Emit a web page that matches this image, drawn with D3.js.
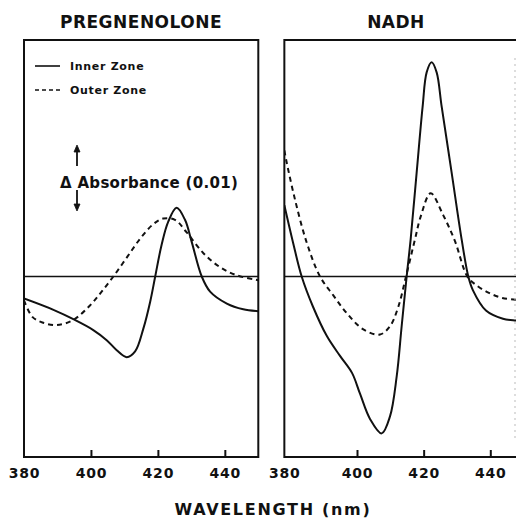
<!DOCTYPE html>
<html>
<head>
<meta charset="utf-8">
<script src="https://cdn.jsdelivr.net/npm/d3@7"></script>
<style>
  body { margin: 0; background: #fff; }
  svg { display: block; }
  text { font-family: 'DejaVu Sans', sans-serif; font-weight: bold; fill: #111; }
</style>
</head>
<body>
<div id="chart"></div>
<script>
const WIDTH = 516;
const HEIGHT = 518;
const TOP = 40;
const BOTTOM = 457;

// values are delta absorbance x 1000
const pregInner = [
  [380, -3.5], [388.8, -5.3], [395.2, -6.9], [400.7, -8.5], [404.7, -10.1],
  [407.7, -11.7], [410.7, -12.8], [413.2, -11.9], [415.7, -8.2], [417.7, -4.0],
  [419.2, 0], [421.1, 5.0], [423.1, 8.7], [425.6, 10.9], [428.1, 9.0],
  [430.1, 5.5], [433.1, 0], [435.6, -2.4], [440.6, -4.3], [445.5, -5.2], [450, -5.5]
];
const pregOuter = [
  [380, -3.8], [382.5, -6.4], [385.5, -7.3], [389.8, -7.7], [394.7, -6.9],
  [399.7, -4.6], [403.2, -2.4], [406.7, 0], [410.7, 3.0], [414.7, 6.0],
  [418.6, 8.3], [421.6, 9.2], [425.1, 9.0], [428.6, 7.0], [433.6, 3.7],
  [438.5, 1.5], [443.5, 0.2], [450, -0.6]
];
const nadhInner = [
  [378.2, 11.3], [380.8, 5.4], [383.4, 0], [386.8, -4.8], [391.0, -9.5],
  [394.9, -12.6], [398.5, -15.3], [400.9, -18.6], [403.9, -22.6], [407.4, -24.9],
  [409.9, -22.2], [411.9, -15.9], [413.4, -7.9], [414.9, 0], [416.1, 5.9],
  [417.9, 16.5], [419.7, 27.0], [420.9, 32.4], [422.4, 34.0], [423.9, 32.4],
  [425.4, 27.0], [428.4, 16.5], [431.4, 5.9], [433.4, 0], [434.8, -2.2],
  [438.7, -5.4], [443.8, -6.7], [447.7, -7.0], [450, -7.1]
];
const nadhOuter = [
  [378.2, 20.0], [378.9, 18.1], [381.4, 12.2], [384.9, 5.4], [388.9, 0],
  [392.9, -3.0], [396.9, -5.8], [401.9, -8.4], [406.9, -9.2], [409.9, -7.9],
  [412.4, -4.8], [414.7, 0], [417.4, 5.9], [419.1, 9.5], [422.1, 13.2],
  [425.9, 9.7], [429.4, 5.6], [433.1, 0], [435.6, -1.3], [439.6, -2.6],
  [443.6, -3.4], [447.7, -3.7], [450, -3.8]
];

const xTicks = [380, 400, 420, 440];
const panelTitles = ['PREGNENOLONE', 'NADH'];
const legendLabels = ['Inner Zone', 'Outer Zone'];

const svg = d3.select('#chart').append('svg')
  .attr('width', WIDTH)
  .attr('height', HEIGHT);

const y = d3.scaleLinear().domain([0, 10]).range([276.5, 213.5]);

const panels = [
  { x: d3.scaleLinear().domain([380, 450]).range([24, 258.3]), start: 380, end: 450,
    inner: pregInner, outer: pregOuter, title: panelTitles[0], titleX: 141 },
  { x: d3.scaleLinear().domain([400, 440]).range([357, 490.3]), start: 378.2, end: 450.5,
    inner: nadhInner, outer: nadhOuter, title: panelTitles[1], titleX: 396 }
];

panels.forEach((p, i) => {
  const x = p.x;
  const x0 = x(p.start), x1 = x(p.end);
  const g = svg.append('g');

  g.append('clipPath').attr('id', 'clip' + i)
    .append('rect')
    .attr('x', x0).attr('y', TOP)
    .attr('width', x1 - x0).attr('height', BOTTOM - TOP);

  // frame
  g.append('rect')
    .attr('x', x0).attr('y', TOP)
    .attr('width', x1 - x0).attr('height', BOTTOM - TOP)
    .attr('fill', 'none')
    .attr('stroke', '#111')
    .attr('stroke-width', 2);

  // zero line
  g.append('line')
    .attr('x1', x0).attr('x2', x1)
    .attr('y1', y(0)).attr('y2', y(0))
    .attr('stroke', '#111')
    .attr('stroke-width', 1.6);

  const line = d3.line()
    .x(d => x(d[0]))
    .y(d => y(d[1]))
    .curve(d3.curveCatmullRom.alpha(0.5));

  g.append('path')
    .datum(p.inner)
    .attr('clip-path', `url(#clip${i})`)
    .attr('d', line)
    .attr('fill', 'none')
    .attr('stroke', '#111')
    .attr('stroke-width', 2);

  g.append('path')
    .datum(p.outer)
    .attr('clip-path', `url(#clip${i})`)
    .attr('d', line)
    .attr('fill', 'none')
    .attr('stroke', '#111')
    .attr('stroke-width', 2)
    .attr('stroke-dasharray', '5,4');

  // bottom axis, ticks pointing inwards
  const axis = g.append('g')
    .attr('transform', `translate(0,${BOTTOM})`)
    .call(d3.axisBottom(x).tickValues(xTicks).tickSizeInner(-7).tickSizeOuter(0));
  axis.select('.domain').remove();
  axis.selectAll('.tick line')
    .attr('stroke', '#111')
    .attr('stroke-width', 2)
    .attr('display', d => d === 380 ? 'none' : null);
  axis.selectAll('.tick text')
    .attr('y', 11)
    .attr('dx', d => (i === 1 && d === 380) ? -6 : 0)
    .style('font-family', "'DejaVu Sans', sans-serif")
    .style('font-weight', 'bold')
    .style('font-size', '14px')
    .style('letter-spacing', '0.8px')
    .attr('fill', '#111');

  g.append('text')
    .attr('x', p.titleX)
    .attr('y', 28)
    .attr('text-anchor', 'middle')
    .style('font-size', '17px')
    .style('letter-spacing', '0.5px')
    .text(p.title);
});

// faint right border of NADH panel
svg.append('line')
  .attr('x1', 515).attr('x2', 515)
  .attr('y1', 58).attr('y2', 440)
  .attr('stroke', '#bbb')
  .attr('stroke-width', 1)
  .attr('stroke-dasharray', '2,4');

// legend
const legend = svg.append('g');
legendLabels.forEach((lab, i) => {
  const ly = 66 + i * 24;
  legend.append('line')
    .attr('x1', 35).attr('x2', 60)
    .attr('y1', ly).attr('y2', ly)
    .attr('stroke', '#111')
    .attr('stroke-width', 1.6)
    .attr('stroke-dasharray', i === 1 ? '4,3' : null);
  legend.append('text')
    .attr('x', 70)
    .attr('y', ly + 4)
    .style('font-size', '11px')
    .style('letter-spacing', '0.7px')
    .text(lab);
});

// delta absorbance scale bar
const ax = 77;
const bar = svg.append('g').attr('stroke', '#111').attr('fill', '#111');
bar.append('line').attr('x1', ax).attr('x2', ax).attr('y1', 166).attr('y2', 150).attr('stroke-width', 1.8);
bar.append('path').attr('d', `M${ax},145 L${ax - 3},152 L${ax + 3},152 Z`).attr('stroke-width', 0.8);
bar.append('line').attr('x1', ax).attr('x2', ax).attr('y1', 190).attr('y2', 206).attr('stroke-width', 1.8);
bar.append('path').attr('d', `M${ax},211 L${ax - 3},204 L${ax + 3},204 Z`).attr('stroke-width', 0.8);

svg.append('text')
  .attr('x', 60)
  .attr('y', 187.5)
  .style('font-size', '15px')
  .style('letter-spacing', '0.3px')
  .text('\u0394 Absorbance (0.01)');

svg.append('text')
  .attr('x', 273)
  .attr('y', 515)
  .attr('text-anchor', 'middle')
  .style('font-size', '16px')
  .style('letter-spacing', '1.7px')
  .text('WAVELENGTH (nm)');
</script>
</body>
</html>
